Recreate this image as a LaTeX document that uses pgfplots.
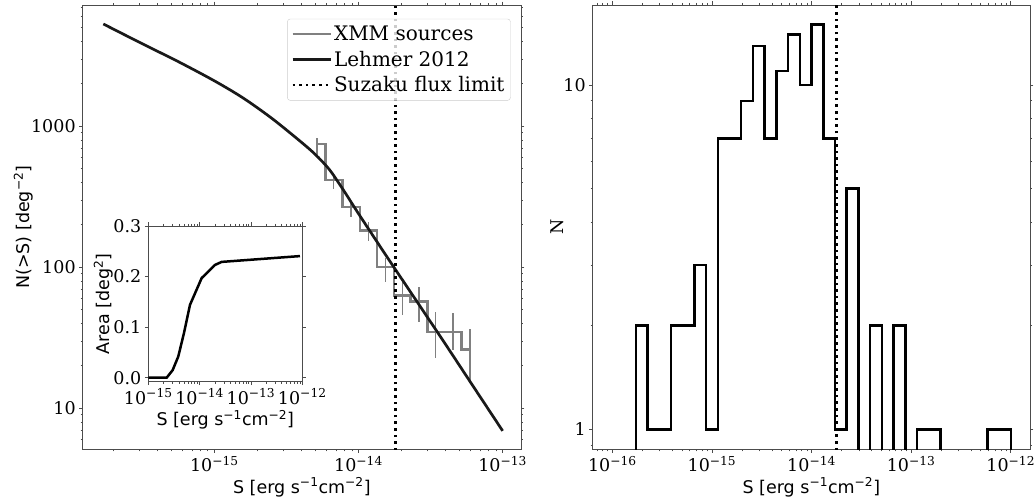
\documentclass[border=0pt]{standalone}
\usepackage{fontspec}
\setmainfont{DejaVu Serif}
\setsansfont{DejaVu Sans}
\usepackage{pgfplots}
\pgfplotsset{compat=1.18}

\newcommand{\fs}{\fontsize{17.5}{21}\selectfont}
\newcommand{\sps}[1]{\textsuperscript{#1}}

\pgfplotsset{
  panel/.style={
    scale only axis,
    anchor=south west,
    axis line style={black!70, line width=0.8pt},
    tick style={black!70, line width=0.8pt},
    tick align=outside,
    major tick length=3.5pt,
    minor tick length=2pt,
    tick label style={font=\fs},
    label style={font=\fs},
    xlabel style={at={(axis description cs:0.5,0)}, anchor=center, yshift=-38pt},
  },
  steps/.style={black, line width=2.5pt},
  flux/.style={black, line width=2.6pt, dash pattern=on 2.6pt off 4pt},
}

\begin{document}
\begin{tikzpicture}
\useasboundingbox (-82.7pt,-53.7pt) rectangle (952.3pt,449.3pt);

% left panel: cumulative counts
\begin{axis}[panel, at={(0pt,0pt)},
  width=438.3pt, height=444.3pt,
  xmode=log, ymode=log,
  xmin=1.22e-16, xmax=1.34e-13, ymin=5.12, ymax=7240,
  xtick={1e-15,1e-14,1e-13},
  xticklabels={10\sps{−15},10\sps{−14},10\sps{−13}},
  minor xtick={2e-16,3e-16,4e-16,5e-16,6e-16,7e-16,8e-16,9e-16,
    2e-15,3e-15,4e-15,5e-15,6e-15,7e-15,8e-15,9e-15,
    2e-14,3e-14,4e-14,5e-14,6e-14,7e-14,8e-14,9e-14},
  ytick={10,100,1000}, yticklabels={10,100,1000},
  minor ytick={6,7,8,9,20,30,40,50,60,70,80,90,200,300,400,500,600,700,800,900,
    2000,3000,4000,5000,6000,7000},
  xlabel={\sffamily S [erg s\sps{−1}cm\sps{−2}]},
  ylabel={\sffamily N(>S) [deg\sps{−2}]},
  ylabel style={at={(axis description cs:-0.1355,0.5)}, anchor=center},
  legend style={at={(0.9765,0.969)}, anchor=north east, draw=black!20,
    rounded corners=3pt, fill=white, fill opacity=0.8, text opacity=1,
    font=\fontsize{20}{24}\selectfont, row sep=5pt, inner xsep=4pt, inner ysep=5pt},
  legend cell align=left,
  legend image code/.code={\draw[#1] (0pt,0pt) -- (38pt,0pt);},
]
\addplot[gray, line width=2.5pt, const plot mark mid,
  legend image code/.code={\draw[gray, line width=2.5pt] (0pt,0pt) -- (38pt,0pt);}]
  coordinates {
  (5.16e-15,749) (6.73e-15,416) (8.89e-15,267) (1.172e-14,182.5)
  (1.540e-14,100.5) (2.013e-14,63.2) (2.626e-14,57.0) (3.428e-14,34.9)
  (4.519e-14,34.9) (5.929e-14,26.2)
};
\addlegendentry{XMM sources}
\addplot[draw=none, mark=none, forget plot,
  error bars/.cd, y dir=both, y explicit, error mark=none,
  error bar style={draw=gray, line width=1.3pt}]
  coordinates {
    (5.16e-15,749)  += (0,73)   -= (0,124)
    (6.73e-15,416)  += (0,36)   -= (0,57)
    (8.89e-15,267)  += (0,28)   -= (0,39)
    (1.172e-14,182.5) += (0,26.5) -= (0,28.5)
    (1.540e-14,100.5) += (0,15.5) -= (0,21.8)
    (2.013e-14,63.2)  += (0,16.8) -= (0,17.3)
    (2.626e-14,57.0)  += (0,15.8) -= (0,15.9)
    (3.428e-14,34.9)  += (0,13.5) -= (0,12.3)
    (4.519e-14,34.9)  += (0,12.3) -= (0,9.0)
    (5.929e-14,26.2)  += (0,10.1) -= (0,10.3)
  };
\addplot[black!90, line width=2.7pt, smooth, tension=0.5,
  legend image code/.code={\draw[black!90, line width=2.7pt] (0pt,0pt) -- (38pt,0pt);}]
  coordinates {
  (1.698e-16,5309) (3.162e-16,3846) (5.623e-16,2871) (1e-15,2099)
  (1.585e-15,1585) (2.512e-15,1135) (3.981e-15,776) (5.012e-15,631)
  (6.310e-15,490) (7.943e-15,347) (1e-14,240) (1.585e-14,117.5)
  (2.512e-14,58.2) (3.981e-14,28.8) (6.310e-14,14.1) (1e-13,6.92)
};
\addlegendentry{Lehmer 2012}
\addplot[flux] coordinates {(1.8e-14,1) (1.8e-14,1e5)};
\addlegendentry{Suzaku flux limit}
\end{axis}

% inset: survey area
\begin{axis}[panel, at={(65.6pt,67.6pt)},
  width=154pt, height=155.7pt,
  xmode=log,
  xmin=1e-15, xmax=1e-12, ymin=-0.0079, ymax=0.3,
  axis background/.style={fill=white},
  xtick={1e-15,1e-14,1e-13,1e-12},
  xticklabels={10\sps{−15},10\sps{−14},10\sps{−13},10\sps{−12}},
  minor xtick={2e-15,3e-15,4e-15,5e-15,6e-15,7e-15,8e-15,9e-15,
    2e-14,3e-14,4e-14,5e-14,6e-14,7e-14,8e-14,9e-14,
    2e-13,3e-13,4e-13,5e-13,6e-13,7e-13,8e-13,9e-13},
  ytick={0,0.1,0.2,0.3}, yticklabels={0.0,0.1,0.2,0.3},
  xlabel={\sffamily S [erg s\sps{−1}cm\sps{−2}]},
  ylabel={\sffamily Area [deg\sps{2}]},
  ylabel style={at={(axis description cs:-0.292,0.5)}, anchor=center},
]
\addplot[black, line width=2.5pt] coordinates {
  (1e-15,0) (2.28e-15,0) (2.985e-15,0.015) (3.84e-15,0.042) (4.95e-15,0.088)
  (6.49e-15,0.144) (1.096e-14,0.197) (1.995e-14,0.223) (2.69e-14,0.229)
  (9.02e-13,0.2405)
};
\end{axis}

% right panel: flux histogram
\begin{axis}[panel, at={(510pt,0pt)},
  width=437.3pt, height=444.3pt,
  xmode=log, ymode=log,
  xmin=6.35e-17, xmax=1.56e-12, ymin=0.875, ymax=17.08,
  xtick={1e-16,1e-15,1e-14,1e-13,1e-12},
  xticklabels={10\sps{−16},10\sps{−15},10\sps{−14},10\sps{−13},10\sps{−12}},
  minor xtick={7e-17,8e-17,9e-17,
    2e-16,3e-16,4e-16,5e-16,6e-16,7e-16,8e-16,9e-16,
    2e-15,3e-15,4e-15,5e-15,6e-15,7e-15,8e-15,9e-15,
    2e-14,3e-14,4e-14,5e-14,6e-14,7e-14,8e-14,9e-14,
    2e-13,3e-13,4e-13,5e-13,6e-13,7e-13,8e-13,9e-13},
  ytick={1,10}, yticklabels={1,10},
  minor ytick={0.9,2,3,4,5,6,7,8,9},
  xlabel={\sffamily S [erg s\sps{−1}cm\sps{−2}]},
  ylabel={N},
  ylabel style={at={(axis description cs:-0.0816,0.5)}, anchor=center},
]
% bin edge, count (0.1 stands for an empty bin, below the axis)
\addplot[steps, const plot mark left] coordinates {
  (1.000e-16,0.1) (1.311e-16,0.1) (1.719e-16,2) (2.254e-16,1) (2.955e-16,1)
  (3.875e-16,2) (5.080e-16,2) (6.660e-16,3) (8.733e-16,1) (1.145e-15,7)
  (1.501e-15,7) (1.968e-15,9) (2.581e-15,13) (3.384e-15,7) (4.436e-15,11)
  (5.816e-15,14) (7.626e-15,10) (1.000e-14,15) (1.311e-14,7) (1.719e-14,1)
  (2.254e-14,5) (2.955e-14,0.1) (3.875e-14,2) (5.080e-14,0.1) (6.660e-14,2)
  (8.733e-14,0.1) (1.145e-13,1) (1.501e-13,1) (1.968e-13,0.1) (2.581e-13,0.1)
  (3.384e-13,0.1) (4.436e-13,0.1) (5.816e-13,1) (7.626e-13,1)
  (1.000e-12,1) (1.000e-12,0.1)
};
\addplot[flux] coordinates {(1.78e-14,0.1) (1.78e-14,100)};
\end{axis}
\end{tikzpicture}
\end{document}
